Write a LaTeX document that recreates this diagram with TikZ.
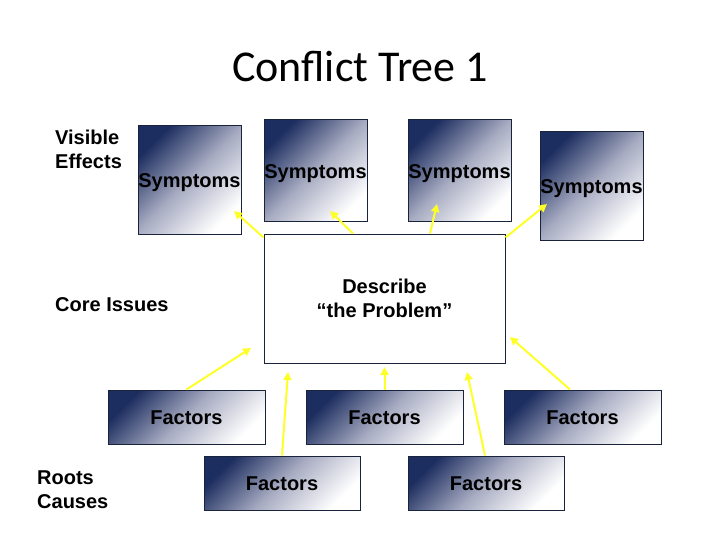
\documentclass[tikz,border=0pt]{standalone}
\usepackage{fontspec}
\setmainfont{Liberation Sans}
\newfontfamily\titlefont{Carlito}
\usetikzlibrary{arrows.meta}
\definecolor{boxdark}{RGB}{28,45,95}
\definecolor{boxmid}{RGB}{168,172,194}
\definecolor{boxedge}{RGB}{25,35,60}
\definecolor{arrowyellow}{RGB}{255,255,40}
\tikzset{
  grad/.style={draw=boxedge, line width=1pt, top color=boxdark, bottom color=white, middle color=boxmid, shading angle=45,
    font=\fontsize{20}{24}\selectfont\bfseries, text height=14.3pt, text depth=0pt, inner sep=0pt},
  sym/.style={grad, minimum width=103pt},
  fac/.style={grad, minimum width=157pt, minimum height=54pt},
  arr/.style={draw=arrowyellow, line width=2pt, -{Triangle[length=8pt,width=8pt]}},
  lbl/.style={font=\fontsize{20}{24}\selectfont\bfseries, align=left, inner sep=0pt}
}
\begin{document}
\begin{tikzpicture}[x=1pt,y=-1pt]
\useasboundingbox (0,0) rectangle (720,540);
\node[font=\titlefont\fontsize{44}{50}\selectfont, anchor=base] (title) at (360,82) {Conflict Tree 1};

\node[sym, minimum height=108pt] (s1) at (189.5,180) {Symptoms};
\node[sym, minimum height=102pt] (s2) at (315.5,171) {Symptoms};
\node[sym, minimum height=102pt] (s3) at (459.5,171) {Symptoms};
\node[sym, minimum height=108pt] (s4) at (591.5,186) {Symptoms};

\node[draw=boxedge, line width=1pt, fill=white, minimum width=241pt, minimum height=129pt, align=center,
  font=\fontsize{20}{24}\selectfont\bfseries, inner sep=0pt] (c) at (384.5,298.5) {Describe\\“the Problem”};

\node[fac] (f1) at (186.5,417) {Factors};
\node[fac] (f2) at (384.5,417) {Factors};
\node[fac] (f3) at (582.5,417) {Factors};
\node[fac, minimum width=156pt] (f4) at (282,483) {Factors};
\node[fac, minimum width=156pt] (f5) at (486,483) {Factors};

\node[lbl, anchor=base west] (vis) at (55,169) {Visible\\Effects};
\node[lbl, anchor=base west] (core) at (55,311) {Core Issues};
\node[lbl, anchor=base west] (roots) at (37,508) {Roots\\Causes};

\coordinate (t1) at (234,211);
\coordinate (t2) at (330,211);
\coordinate (t3) at (437,204);
\coordinate (t4) at (547,204);
\coordinate (t5) at (251,348);
\coordinate (t6) at (288,372);
\coordinate (t7) at (384.5,367);
\coordinate (t8) at (467,372);
\coordinate (t9) at (510,337);

\draw[arr] ([yshift=-4pt]c.north west) -- (t1);
\draw[arr] ([xshift=-31.5pt]c.north) -- (t2);
\draw[arr] ([xshift=45.5pt]c.north) -- (t3);
\draw[arr] ([yshift=-4pt]c.north east) -- (t4);
\draw[arr] (f1.north) -- (t5);
\draw[arr] (f4.north) -- (t6);
\draw[arr] (f2.north) -- (t7);
\draw[arr] ([xshift=-1pt]f5.north) -- (t8);
\draw[arr] ([xshift=-12.5pt]f3.north) -- (t9);
\end{tikzpicture}
\end{document}
